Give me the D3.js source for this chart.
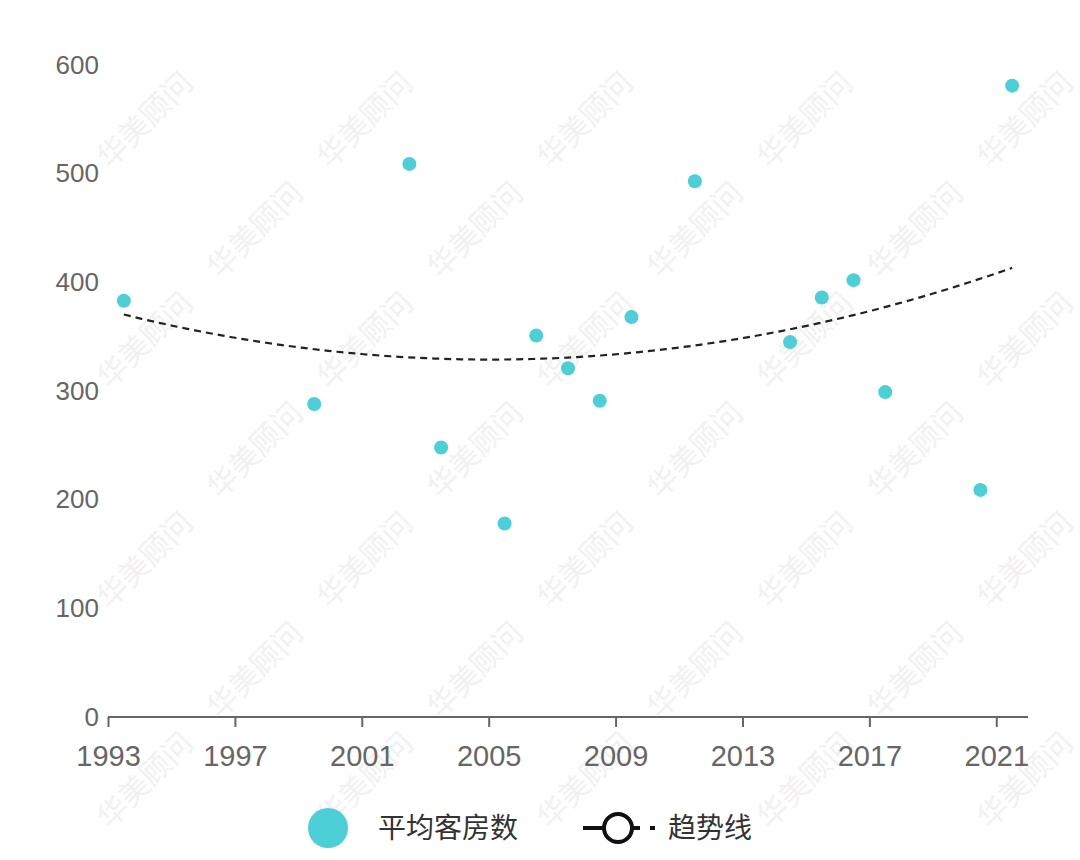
<!DOCTYPE html>
<html><head><meta charset="utf-8">
<script src="https://cdn.jsdelivr.net/npm/d3@7"></script>
<style>body{margin:0;background:#fff}svg{font-family:"Noto Sans CJK SC","Liberation Sans",sans-serif}</style>
</head><body><svg id="c" width="1080" height="860"></svg>
<script>
const years=[1993.5,1999.5,2002.5,2003.5,2005.5,2006.5,2007.5,2008.5,2009.5,2011.5,2014.5,2015.5,2016.5,2017.5,2020.5,2021.5];
const rooms=[383,288,509,248,178,351,321,291,368,493,345,386,402,299,209,581];
const xTicks=[1993,1997,2001,2005,2009,2013,2017,2021];
const yTicks=[0,100,200,300,400,500,600];
const seriesName="平均客房数", trendName="趋势线", color="#4ccfd6";

const svg=d3.select("#c");
const wm=svg.append("g").attr("fill","#f1f1f1").attr("font-size",30);
for(let i=-6;i<12;i++)for(let j=-2;j<10;j++){
  const x=i*110+j*110, y=j*110-i*110+60;
  if(x<20||x>1000||y<100||y>860)continue;
  wm.append("text").attr("transform",`translate(${x},${y}) rotate(-45)`).text("华美顾问");
}
const x=d3.scaleLinear().domain([1993,2022]).range([108,1028]);
const y=d3.scaleLinear().domain([0,600]).range([717,65]);
const gx=svg.append("g").attr("transform","translate(0,717)").call(d3.axisBottom(x).tickValues(xTicks).tickFormat(d3.format("d")).tickSize(10).tickSizeOuter(0));
gx.selectAll("text").attr("font-size",29).attr("fill","#666").attr("dy","1.25em");
gx.selectAll("line,path").attr("stroke","#666").attr("stroke-width",2);
gx.select("path").attr("d","M108,0H1028");
const gy=svg.append("g").attr("transform","translate(102,0)").call(d3.axisLeft(y).tickValues(yTicks).tickSize(0));
gy.select("path").remove();
gy.selectAll("text").attr("font-size",26).attr("fill","#666");
const m=d3.mean(years);
const X=years.map(v=>v-m);
let S=[0,0,0,0,0],T=[0,0,0];
X.forEach((t,i)=>{for(let k=0;k<5;k++)S[k]+=t**k;for(let k=0;k<3;k++)T[k]+=rooms[i]*t**k;});
function solve(A,b){const n=b.length;A=A.map((r,i)=>[...r,b[i]]);for(let i=0;i<n;i++){for(let j=i+1;j<n;j++){const f=A[j][i]/A[i][i];for(let k=i;k<=n;k++)A[j][k]-=f*A[i][k];}}const r=Array(n);for(let i=n-1;i>=0;i--){let s=A[i][n];for(let k=i+1;k<n;k++)s-=A[i][k]*r[k];r[i]=s/A[i][i];}return r;}
const c=solve([[S[0],S[1],S[2]],[S[1],S[2],S[3]],[S[2],S[3],S[4]]],T);
const tr=d3.range(0,101).map(i=>{const v=years[0]+(years[years.length-1]-years[0])*i/100;const t=v-m;return [v,c[0]+c[1]*t+c[2]*t*t];});
svg.append("path").attr("d",d3.line().x(d=>x(d[0])).y(d=>y(d[1]))(tr)).attr("fill","none").attr("stroke","#222").attr("stroke-width",2.2).attr("stroke-dasharray","7,5");
svg.append("g").selectAll("circle").data(years).join("circle").attr("cx",d=>x(d)).attr("cy",(d,i)=>y(rooms[i])).attr("r",7).attr("fill",color);
svg.append("circle").attr("cx",328).attr("cy",828).attr("r",20).attr("fill",color);
svg.append("text").attr("x",378).attr("y",838).attr("font-size",28).attr("fill","#333").text(seriesName);
svg.append("path").attr("d","M583,828H603").attr("stroke","#111").attr("stroke-width",4);
svg.append("path").attr("d","M633,828H640M650,828H655").attr("stroke","#111").attr("stroke-width",4);
svg.append("circle").attr("cx",618).attr("cy",828).attr("r",14).attr("fill","#fff").attr("stroke","#111").attr("stroke-width",4);
svg.append("text").attr("x",668).attr("y",838).attr("font-size",28).attr("fill","#333").text(trendName);
</script></body></html>
